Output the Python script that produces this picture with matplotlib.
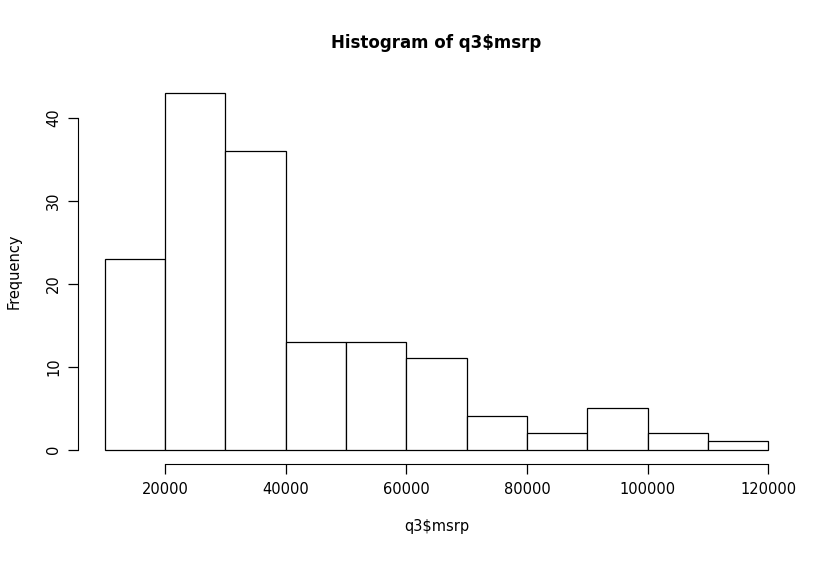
import matplotlib

matplotlib.use("Agg")
import matplotlib.pyplot as plt
import numpy as np

bin_edges = [10000, 20000, 30000, 40000, 50000, 60000, 70000, 80000, 90000, 100000, 110000, 120000]
counts = [23, 43, 36, 13, 13, 11, 4, 2, 5, 2, 1]
x_ticks = [20000, 40000, 60000, 80000, 100000, 120000]
y_ticks = [0, 10, 20, 30, 40]

plt.rcParams["font.family"] = ["DejaVu Sans"]

fig = plt.figure(figsize=(8.36, 5.63), dpi=100)
ax = fig.add_axes([0.0933, 0.176, 0.951 - 0.0933, 0.860 - 0.176])

edges = np.array(bin_edges)
ax.bar(edges[:-1], counts, width=np.diff(edges), align="edge",
       facecolor="white", edgecolor="black", linewidth=0.9)

ax.set_xlim(5600, 124400)
ax.set_ylim(-1.72, 44.72)
for s in ["top", "right"]:
    ax.spines[s].set_visible(False)
ax.spines["left"].set_bounds(0, 40)
ax.spines["bottom"].set_bounds(20000, 120000)
ax.set_xticks(x_ticks)
ax.set_yticks(y_ticks)
ax.set_yticklabels([str(v) for v in y_ticks], rotation=90, va="center")
ax.tick_params(direction="out", length=7, labelsize=10.5, width=0.9)
ax.tick_params(axis="y", pad=5)
ax.tick_params(axis="x", pad=6)
ax.set_xlabel("q3$msrp", fontsize=10.5, labelpad=16)
ax.set_ylabel("Frequency", fontsize=10.5, labelpad=18)
ax.set_title("Histogram of q3$msrp", fontsize=12, fontweight="bold", pad=22)

fig.savefig("out.png", dpi=100)
